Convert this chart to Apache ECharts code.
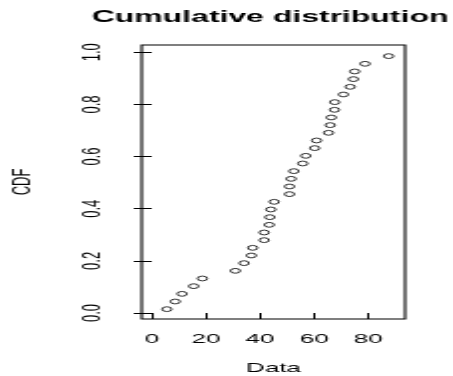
<!DOCTYPE html>
<html>
<head>
<meta charset="utf-8">
<script src="https://cdn.jsdelivr.net/npm/echarts@6/dist/echarts.min.js"></script>
<style>
html,body{margin:0;padding:0;background:#fff;overflow:hidden;}
#wrap{width:453px;height:376px;overflow:hidden;}
#chart{width:227px;height:376px;transform:scaleX(1.9956);transform-origin:0 0;}
</style>
</head>
<body>
<div id="wrap"><div id="chart"></div></div>
<script>
// Data values (x), sorted
const dataValues = [5.6, 8.7, 11.2, 15.5, 18.7, 30.9, 34.1, 36.8, 37.3, 41.5, 41.5, 43.4, 43.6, 44.0, 45.2,
  50.9, 50.9, 51.5, 52.5, 55.8, 56.9, 60.2, 60.9, 65.3, 65.9, 66.3, 67.5, 67.6, 70.8, 73.3, 74.5, 75.0, 78.8, 87.5];
// CDF values
const cdfValues = [0.0147, 0.0441, 0.0735, 0.1029, 0.1324, 0.1618, 0.1912, 0.2206, 0.25, 0.2794, 0.3088, 0.3382,
  0.3676, 0.3971, 0.4265, 0.4559, 0.4853, 0.5147, 0.5441, 0.5735, 0.6029, 0.6324, 0.6618, 0.6912, 0.7206, 0.75,
  0.7794, 0.8088, 0.8382, 0.8676, 0.8971, 0.9265, 0.9559, 0.9853];
const xTicks = [0, 20, 40, 60, 80];
const yTicks = [0, 0.2, 0.4, 0.6, 0.8, 1.0];

const points = dataValues.map((v, i) => [v, cdfValues[i]]);
const font = 'Liberation Sans, Arial, sans-serif';

const chart = echarts.init(document.getElementById('chart'), null, {renderer: 'canvas'});
chart.setOption({
  animation: false,
  title: {
    text: 'Cumulative distribution',
    left: 46, top: 10, padding: 0,
    textStyle: {fontFamily: font, fontWeight: 'bold', fontSize: 16, color: '#000'}
  },
  grid: {
    left: 71, right: 24, top: 45, bottom: 57,
    outerBoundsMode: 'none', containLabel: false,
    show: true, borderColor: '#000', borderWidth: 1.1, backgroundColor: 'transparent'
  },
  xAxis: {
    type: 'value', min: -3.7, max: 93.6,
    name: 'Data', nameLocation: 'middle', nameGap: 43,
    nameTextStyle: {fontFamily: font, fontSize: 13, color: '#000'},
    axisLine: {show: false},
    splitLine: {show: false},
    axisTick: {show: true, length: 6, customValues: xTicks, lineStyle: {color: '#000', width: 1}},
    axisLabel: {customValues: xTicks, margin: 14, fontFamily: font, fontSize: 13, color: '#000'}
  },
  yAxis: {
    type: 'value', min: -0.023, max: 1.028,
    name: 'CDF', nameLocation: 'middle', nameGap: 53.5,
    nameTextStyle: {fontFamily: font, fontSize: 13, color: '#000'},
    axisLine: {show: false},
    splitLine: {show: false},
    axisTick: {show: true, length: 9, customValues: yTicks, lineStyle: {color: '#000', width: 1}},
    axisLabel: {customValues: yTicks, rotate: 90, margin: 18, fontFamily: font, fontSize: 13, color: '#000',
      formatter: v => v.toFixed(1)}
  },
  series: [{
    type: 'scatter',
    data: points,
    symbol: 'circle',
    symbolSize: 4.8,
    itemStyle: {color: '#fff', borderColor: '#000', borderWidth: 1}
  }]
});
</script>
</body>
</html>
